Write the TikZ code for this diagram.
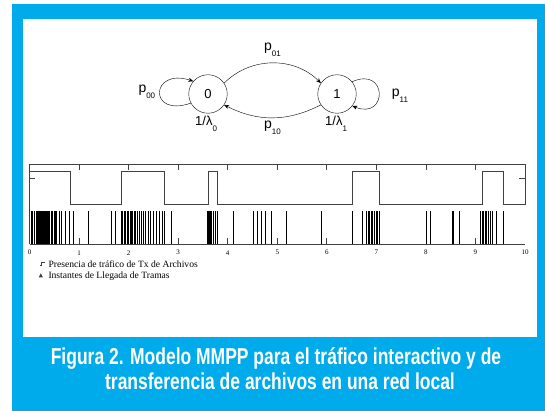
\documentclass[tikz,border=0pt]{standalone}
\usepackage{fontspec}
\setmainfont{Liberation Serif}
\setsansfont{Liberation Sans}
\newfontfamily\capfont[FakeStretch=0.76]{Liberation Sans}
\usetikzlibrary{arrows.meta}

\definecolor{capblue}{RGB}{0,171,235}
\definecolor{plotgray}{gray}{0.25}
\newcommand{\lowsub}[1]{\raisebox{-6pt}{\fontsize{8}{8}\selectfont #1}}

\begin{document}
\begin{tikzpicture}[x=1pt,y=1pt,
    state/.style={circle,draw,thin,minimum size=38.5pt,inner sep=0pt,
      font=\sffamily\fontsize{13}{13}\selectfont},
    trans/.style={draw,thin,-{Stealth[length=5pt,width=4pt]}},
    lbl/.style={inner sep=0pt,anchor=base west,font=\sffamily\fontsize{14}{14}\selectfont},
    rate/.style={inner sep=0pt,anchor=base west,font=\sffamily\fontsize{13}{13}\selectfont},
    ticklbl/.style={inner sep=0pt,font=\fontsize{7}{7}\selectfont},
    legtext/.style={inner sep=0pt,anchor=west,font=\fontsize{9.6}{10}\selectfont},
    captext/.style={inner sep=0pt,anchor=base,text=white,
      font=\capfont\bfseries\fontsize{23}{23}\selectfont}]

  \useasboundingbox (0,0) rectangle (545,-411);
  \fill[capblue] (11.5,-4) rectangle (545,-411);
  \fill[white] (22.5,-19) rectangle (537,-337);

  \node[state] (s0) at (208,-94) {0};
  \node[state] (s1) at (337,-94) {1};

  \draw[trans] (s0.34) to[out=45,in=135] (s1.146);
  \draw[trans] (s1.214) to[out=207,in=-27] (s0.-34);
  \draw[trans] (s0.208) .. controls +(-43,-15) and +(-43,14) .. (s0.139);
  \draw[trans] (s1.39) .. controls +(35.6,16) and +(35.6,-14.3) .. (s1.-38);

  \node[lbl] (p00) at (138.3,-92.3) {p\lowsub{00}};
  \node[lbl] (p01) at (264,-50.6) {p\lowsub{01}};
  \node[lbl] (p10) at (264,-129) {p\lowsub{10}};
  \node[lbl] (p11) at (391.7,-96.3) {p\lowsub{11}};
  \node[rate] (l0) at (195,-126) {1/λ\lowsub{0}};
  \node[rate] (l1) at (325,-126) {1/λ\lowsub{1}};

  \begin{scope}[shift={(29.5,-244)},x=49.55pt,y=1pt,draw=plotgray,line width=0.7pt]
    \draw (0,0) -- (10,0);
    \draw (0,0) -- (0,79.5) -- (10,79.5) -- (10,39.7);
    \foreach \t in {1,...,9}{
      \draw (\t,79.5) -- (\t,74);
      \draw (\t,0) -- (\t,5.5);
    }
    \draw (0,66) -- (0.12,66);
    \draw (10,66) -- (9.88,66);
    \foreach \t in {0,...,10}
      \node[ticklbl] (x\t) at (\t,-8.7) {\t};

    \draw (0,72.3) -| (0.82,39.7) -| (1.86,72.3) -| (2.72,39.7) -| (3.60,72.3)
      -| (3.80,39.7) -| (6.52,72.3) -| (7.06,39.7) -| (9.13,72.3) -| (9.56,39.7)
      -- (10.03,39.7);

    \foreach \t in {0.03,0.06,0.10,0.15,0.17,0.19,0.21,0.23,0.25,0.26,0.28,0.30,
        0.32,0.34,0.36,0.38,0.41,0.44,0.47,0.50,0.53,0.55,0.60,0.65,0.72,0.81,
        0.88,1.19,1.66,1.74,1.86,1.88,1.91,1.94,1.97,2.00,2.03,2.05,2.08,2.11,
        2.14,2.17,2.21,2.25,2.30,2.35,2.40,2.45,2.51,2.56,2.62,2.68,2.72,2.87,
        3.60,3.62,3.64,3.66,3.68,3.71,3.75,3.80,4.11,4.52,4.60,4.68,4.77,4.89,
        5.18,5.90,6.51,6.71,6.80,6.84,6.87,6.90,6.93,6.96,7.00,7.03,7.07,8.02,
        8.10,8.54,8.56,8.68,9.11,9.14,9.17,9.20,9.23,9.26,9.30,9.35,9.43,9.56}
      \draw[black,line width=0.9pt] (\t,0) -- (\t,32.5);
  \end{scope}

  \draw[plotgray,line width=0.7pt] (39.5,-265.5) -- (41.5,-265.5) -- (41.5,-262) -- (44.5,-262);
  \fill[plotgray] (38.8,-277.3) -- (42.8,-277.3) -- (40.8,-273.3) -- cycle;
  \node[legtext] (legstep) at (48.3,-264) {Presencia de tráfico de Tx de Archivos};
  \node[legtext] (legarr) at (48.3,-276) {Instantes de Llegada de Tramas};

  \node[captext] (cap1) at (276,-364) {Figura 2. Modelo MMPP para el tráfico interactivo y de};
  \node[captext] (cap2) at (280,-389) {transferencia de archivos en una red local};
\end{tikzpicture}
\end{document}
